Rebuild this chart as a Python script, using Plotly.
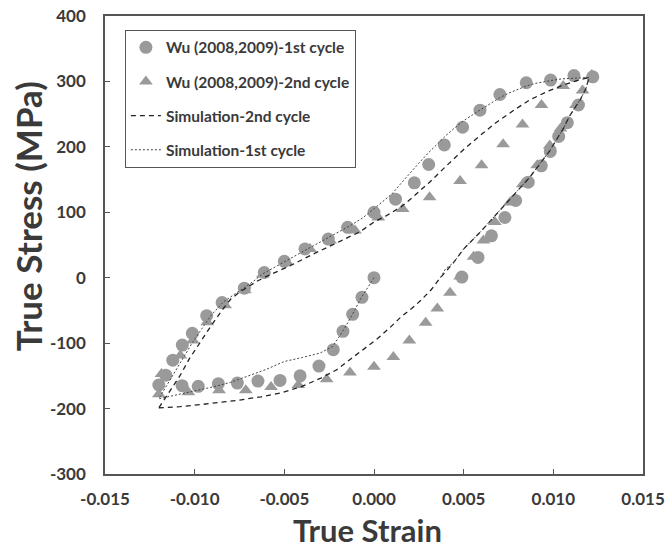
import plotly.graph_objects as go

# Experimental data: Wu (2008,2009) - 1st cycle (circles)
exp1_strain = [0.0, -0.00067, -0.00119, -0.00173, -0.00227, -0.00307, -0.00412, -0.00524, -0.00647,
               -0.00762, -0.00868, -0.0098, -0.0107, -0.0120,
               -0.01161, -0.01122, -0.01069, -0.01013, -0.00933, -0.00847, -0.00723, -0.00612, -0.0050,
               -0.00385, -0.00255, -0.00147, 0.0, 0.0012, 0.00225, 0.00305, 0.00392, 0.00494, 0.00591,
               0.00702, 0.00849, 0.00985, 0.01115, 0.0122,
               0.0114, 0.01078, 0.0103, 0.00983, 0.00933, 0.0086, 0.0079, 0.0073, 0.00655, 0.0058, 0.0049]
exp1_stress = [0, -30, -56, -82, -110, -135, -150, -157, -158,
               -161, -162, -166, -165, -164,
               -149, -126, -103, -85, -58, -38, -16, 8, 25,
               44, 59, 77, 100, 120, 145, 173, 203, 230, 256,
               280, 298, 302, 309, 307,
               264, 237, 216, 193, 171, 146, 118, 92, 64, 31, 1]

# Experimental data: Wu (2008,2009) - 2nd cycle (triangles)
exp2_strain = [-0.0120, -0.01035, -0.00864, -0.00715, -0.00574, -0.00422, -0.00264, -0.00134, 0.0,
               0.00108, 0.00197, 0.00288, 0.00353, 0.00424, 0.0048, 0.00555, 0.0061, 0.00674, 0.00758,
               0.0083, 0.0091, 0.0098, 0.0104, 0.01126, 0.01163, 0.01214,
               0.01055, 0.00934, 0.00828, 0.0072, 0.0060, 0.0048, 0.0031, 0.0016, 0.00024,
               -0.00106, -0.00245, -0.00357, -0.00487, -0.0062, -0.0072, -0.0083, -0.0093, -0.0101,
               -0.0108, -0.01185]
exp2_stress = [-178, -175, -172, -172, -167, -164, -155, -145, -136,
               -121, -96, -69, -47, -23, 2, 32, 57, 85, 115,
               143, 172, 202, 228, 264, 286, 310,
               293, 264, 234, 204, 172, 148, 123, 105, 92,
               72, 57, 44, 24, 5, -19, -42, -68, -96,
               -119, -147]

# Simulation - 2nd cycle (dashed)
sim2_strain = [-0.0120, -0.0108, -0.0097, -0.0086, -0.0075, -0.0063, -0.0052, -0.0041, -0.0030, -0.0021,
               -0.0013, -0.0005, 0.0002, 0.0009, 0.0015, 0.0021, 0.0026, 0.0032, 0.0037,
               0.0044, 0.0050, 0.0060, 0.0070, 0.0080, 0.0087, 0.0093, 0.0098, 0.0102, 0.0106, 0.0109,
               0.0112, 0.0115, 0.0118, 0.0120,
               0.0114, 0.0106, 0.0097, 0.0087, 0.0078, 0.0068, 0.0059, 0.0050, 0.0040, 0.0031, 0.0022,
               0.0015, 0.0007, 0.0, -0.0008, -0.0015, -0.0022, -0.0034,
               -0.0047, -0.0054, -0.0060, -0.0065, -0.0070, -0.0075, -0.0080, -0.0084, -0.0090, -0.0097,
               -0.0103, -0.0108, -0.0114, -0.0120]
sim2_stress = [-199, -197, -194, -191, -187, -182, -176, -167, -154, -141,
               -124, -108, -93, -76, -60, -47, -35, -18, 0,
               22, 44, 72, 102, 133, 154, 176, 194, 212, 230, 247,
               260, 272, 288, 306,
               302, 295, 285, 272, 256, 237, 217, 196, 170, 146, 124,
               108, 95, 85, 70, 61, 52, 36,
               18, 10, 2, -5, -13, -22, -33, -47, -70, -98,
               -124, -149, -174, -199]

# Simulation - 1st cycle (dotted)
sim1_strain = [0.0, -0.0007, -0.0012, -0.0017, -0.0023, -0.0030, -0.0040, -0.0050, -0.0060, -0.0070,
               -0.0080, -0.0090, -0.0100, -0.0110, -0.0120,
               -0.0115, -0.0110, -0.0105, -0.0101, -0.0096, -0.0091, -0.0084, -0.0078, -0.0073, -0.0067,
               -0.0062, -0.0055, -0.0049, -0.0043, -0.0037, -0.0031, -0.0025, -0.0019,
               -0.0013, -0.0006, 0.0, 0.0005, 0.0010, 0.0015, 0.0020, 0.0025, 0.0030, 0.0035, 0.0040,
               0.0045, 0.0050, 0.0055, 0.0060, 0.0065, 0.0070, 0.0075, 0.0080, 0.0085, 0.0090,
               0.0095, 0.0100, 0.0105, 0.0110, 0.0115, 0.0120,
               0.0118, 0.0115, 0.0112, 0.0109, 0.0106, 0.0102, 0.0098, 0.0093, 0.0087, 0.0080, 0.0070,
               0.0060, 0.0050, 0.0044, 0.0040, 0.0037]
sim1_stress = [0, -30, -56, -80, -105, -115, -122, -128, -140, -150,
               -160, -167, -173, -178, -185,
               -162, -139, -118, -98, -78, -58, -37, -26, -17, -5,
               6, 17, 26, 35, 44, 53, 62, 71,
               80, 92, 105, 116, 128, 144, 160, 175, 190, 204, 217,
               229, 240, 249, 258, 267, 275, 282, 288, 293, 297,
               300, 302, 304, 305, 306, 306,
               288, 272, 260, 247, 230, 212, 194, 176, 154, 133, 102,
               72, 44, 22, 14, 0]

x_ticks = [-0.015, -0.010, -0.005, 0.000, 0.005, 0.010, 0.015]
y_ticks = [-300, -200, -100, 0, 100, 200, 300, 400]
x_title = "True Strain"
y_title = "True Stress (MPa)"

marker_color = "#9a9a9a"
font_family = "Lato, 'Open Sans', Arial, sans-serif"
text_color = "#3a3a3a"

fig = go.Figure()
fig.add_trace(go.Scatter(x=exp1_strain, y=exp1_stress, mode="markers",
                         name="<b>Wu (2008,2009)-1st cycle</b>", legendgroup="a",
                         marker=dict(symbol="circle", size=13, color=marker_color)))
fig.add_trace(go.Scatter(x=exp2_strain, y=exp2_stress, mode="markers",
                         name="<b>Wu (2008,2009)-2nd cycle</b>", legendgroup="b",
                         marker=dict(symbol="triangle-up", size=12, color=marker_color)))
fig.add_trace(go.Scatter(x=sim2_strain, y=sim2_stress, mode="lines",
                         name="<b>Simulation-2nd cycle</b>", legendgroup="c",
                         line=dict(color="#222222", width=1.3, dash="5px,4px")))
fig.add_trace(go.Scatter(x=sim1_strain, y=sim1_stress, mode="lines",
                         name="<b>Simulation-1st cycle</b>", legendgroup="d",
                         line=dict(color="#444444", width=1, dash="2px,2px")))

axis_common = dict(showline=True, linecolor="#555555", linewidth=1.5, mirror=True,
                   ticks="inside", ticklen=5, tickcolor="#555555", showgrid=False, zeroline=False,
                   automargin=False,
                   tickfont=dict(family=font_family, size=17, color=text_color))

fig.update_layout(
    width=671, height=551,
    margin=dict(l=105, r=28, t=16, b=77),
    plot_bgcolor="white", paper_bgcolor="white",
    font=dict(family=font_family, color=text_color),
    xaxis=dict(range=[-0.015, 0.015], tickvals=x_ticks,
               ticktext=[f"<b>{v:.3f}</b>" for v in x_ticks],
               ticklabelstandoff=9,
               **axis_common),
    yaxis=dict(range=[-300, 400], tickvals=y_ticks,
               ticktext=[f"<b>{v}</b>" for v in y_ticks],
               ticklabelstandoff=14,
               **axis_common),
    legend=dict(x=0.037, y=0.97, xanchor="left", yanchor="top",
                bordercolor="#555555", borderwidth=1, bgcolor="white",
                font=dict(family=font_family, size=15.5, color=text_color),
                tracegroupgap=11, itemwidth=30),
    showlegend=True,
    annotations=[
        dict(text=f"<b>{x_title}</b>", xref="paper", yref="paper", x=0.487, y=-0.122,
             xanchor="center", yanchor="middle", showarrow=False,
             font=dict(size=31, family=font_family, color=text_color)),
        dict(text=f"<b>{y_title}</b>", xref="paper", yref="paper", x=-0.143, y=0.563,
             xanchor="center", yanchor="middle", showarrow=False, textangle=-90,
             font=dict(size=35, family=font_family, color=text_color)),
    ],
)

fig.write_html("out.html")
